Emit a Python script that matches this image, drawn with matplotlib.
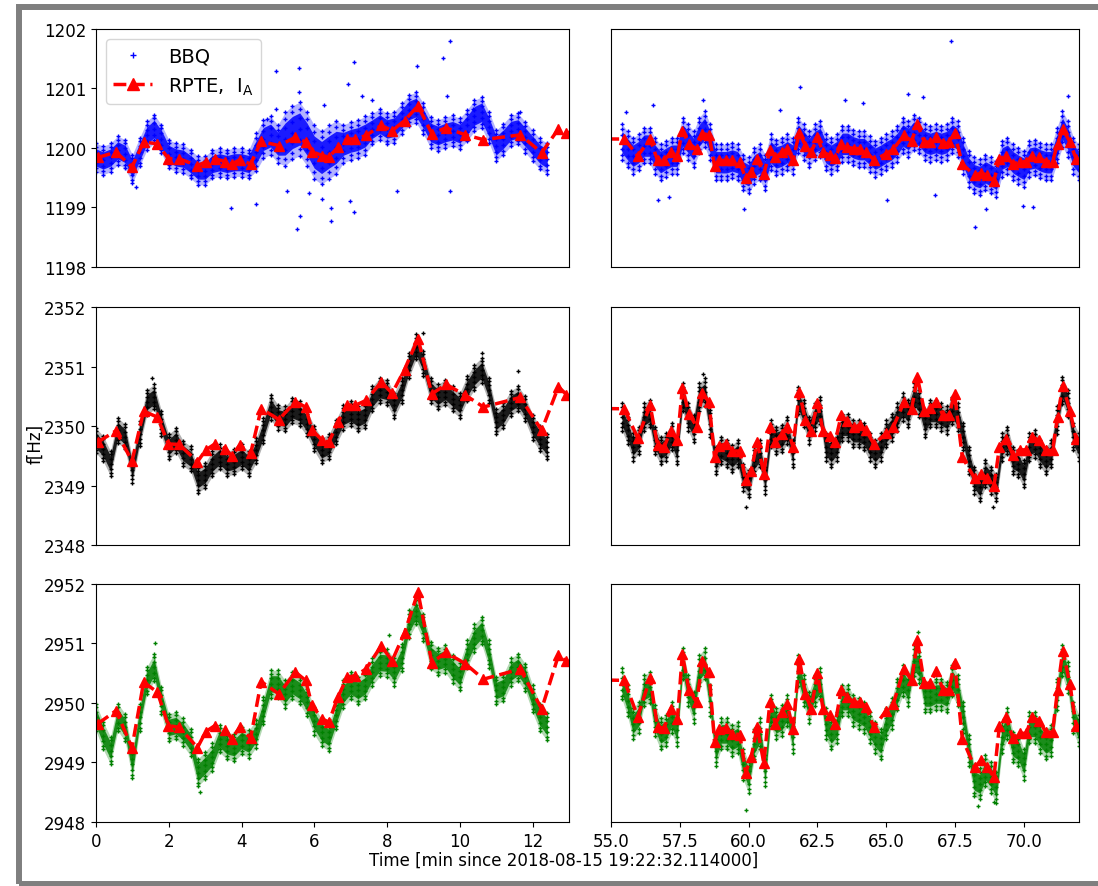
import numpy as np
import matplotlib
matplotlib.use('Agg')
import matplotlib.pyplot as plt
from matplotlib.patches import Rectangle

plt.rcParams['font.size'] = 12

# RPTE measurement times (one array for both windows) and tunes for the 3 planes
rpte_t = [0.05, 0.55, 0.99, 1.31, 1.69, 1.99, 2.29, 2.79, 3.02, 3.27,
          3.55, 3.73, 3.95, 4.25, 4.54, 5.03, 5.48, 5.76, 5.94, 6.22,
          6.40, 6.65, 6.90, 7.13, 7.42, 7.84, 8.14, 8.48, 8.85, 9.23,
          9.62, 10.15, 10.65, 11.66, 12.25, 12.71, 12.93,
          55.48, 55.97, 56.42, 56.69, 56.93, 57.17, 57.41, 57.59, 57.83, 58.11,
          58.32, 58.56, 58.76, 58.92, 59.16, 59.40, 59.68, 59.89, 60.09, 60.31,
          60.55, 60.77, 60.97, 61.21, 61.39, 61.61, 61.84, 62.06, 62.27, 62.50,
          62.70, 62.94, 63.14, 63.36, 63.59, 63.84, 64.05, 64.26, 64.55, 64.99,
          65.25, 65.64, 65.92, 66.13, 66.38, 66.58, 66.82, 67.06, 67.28, 67.48,
          67.76, 68.21, 68.45, 68.67, 68.91, 69.11, 69.35, 69.60, 69.84, 70.08,
          70.30, 70.54, 70.80, 71.04, 71.22, 71.41, 71.67, 71.89]
rpte_top = [1199.84, 1199.93, 1199.68, 1200.10, 1200.07, 1199.82, 1199.82, 1199.70, 1199.77, 1199.82,
            1199.77, 1199.73, 1199.80, 1199.73, 1200.11, 1200.04, 1200.18, 1200.10, 1199.94, 1199.87,
            1199.85, 1200.01, 1200.15, 1200.15, 1200.21, 1200.38, 1200.29, 1200.46, 1200.71, 1200.24,
            1200.34, 1200.22, 1200.14, 1200.22, 1199.92, 1200.32, 1200.26,
            1200.15, 1199.87, 1200.15, 1199.79, 1199.79, 1199.93, 1199.87, 1200.29, 1200.07, 1199.98,
            1200.24, 1200.22, 1199.70, 1199.79, 1199.79, 1199.79, 1199.76, 1199.49, 1199.60, 1199.82,
            1199.56, 1199.96, 1199.84, 1199.93, 1199.98, 1199.79, 1200.26, 1200.04, 1199.93, 1200.18,
            1199.93, 1199.88, 1199.83, 1200.07, 1200.01, 1199.99, 1199.99, 1199.94, 1199.80, 1199.90,
            1199.98, 1200.21, 1200.12, 1200.40, 1200.10, 1200.10, 1200.18, 1200.08, 1200.10, 1200.25,
            1199.73, 1199.54, 1199.58, 1199.54, 1199.45, 1199.82, 1199.87, 1199.73, 1199.77, 1199.77,
            1199.87, 1199.84, 1199.77, 1199.77, 1200.07, 1200.32, 1200.10, 1199.82]
rpte_mid = [2349.73, 2349.92, 2349.41, 2350.25, 2350.15, 2349.70, 2349.69, 2349.40, 2349.60, 2349.70,
            2349.62, 2349.50, 2349.68, 2349.54, 2350.29, 2350.11, 2350.41, 2350.32, 2349.93, 2349.76,
            2349.73, 2350.07, 2350.35, 2350.35, 2350.43, 2350.74, 2350.55, 2350.95, 2351.47, 2350.54,
            2350.70, 2350.52, 2350.32, 2350.48, 2349.93, 2350.66, 2350.53,
            2350.29, 2349.80, 2350.35, 2349.68, 2349.65, 2349.92, 2349.76, 2350.64, 2350.21, 2349.99,
            2350.55, 2350.40, 2349.48, 2349.66, 2349.70, 2349.58, 2349.58, 2349.09, 2349.25, 2349.73,
            2349.20, 2349.98, 2349.73, 2349.87, 2349.99, 2349.65, 2350.57, 2350.10, 2349.92, 2350.38,
            2349.92, 2349.84, 2349.73, 2350.18, 2350.08, 2349.99, 2350.01, 2349.94, 2349.69, 2349.88,
            2349.98, 2350.40, 2350.29, 2350.82, 2350.26, 2350.31, 2350.40, 2350.18, 2350.18, 2350.54,
            2349.48, 2349.12, 2349.20, 2349.12, 2348.99, 2349.65, 2349.79, 2349.51, 2349.60, 2349.60,
            2349.82, 2349.76, 2349.59, 2349.59, 2350.15, 2350.68, 2350.26, 2349.79]
rpte_bot = [2949.65, 2949.87, 2949.25, 2950.35, 2950.18, 2949.62, 2949.59, 2949.25, 2949.52, 2949.62,
            2949.54, 2949.40, 2949.59, 2949.41, 2950.36, 2950.15, 2950.52, 2950.38, 2949.96, 2949.73,
            2949.68, 2950.10, 2950.43, 2950.46, 2950.57, 2950.96, 2950.71, 2951.18, 2951.86, 2950.68,
            2950.85, 2950.66, 2950.40, 2950.57, 2949.90, 2950.80, 2950.70,
            2950.38, 2949.77, 2950.42, 2949.59, 2949.58, 2949.90, 2949.73, 2950.82, 2950.22, 2950.01,
            2950.70, 2950.52, 2949.34, 2949.56, 2949.58, 2949.48, 2949.47, 2948.83, 2949.09, 2949.59,
            2948.99, 2950.01, 2949.65, 2949.84, 2949.99, 2949.56, 2950.74, 2950.15, 2949.90, 2950.50,
            2949.90, 2949.79, 2949.65, 2950.22, 2950.10, 2950.01, 2950.01, 2949.94, 2949.59, 2949.87,
            2949.98, 2950.57, 2950.38, 2951.05, 2950.33, 2950.33, 2950.53, 2950.22, 2950.22, 2950.68,
            2949.40, 2948.92, 2949.04, 2948.92, 2948.75, 2949.62, 2949.76, 2949.41, 2949.49, 2949.49,
            2949.77, 2949.70, 2949.51, 2949.51, 2950.22, 2950.88, 2950.32, 2949.62]

# BBQ: centre of the point cloud read every 0.2 min, plus its half width
bbq_t_left = np.round(np.arange(0.0, 12.41, 0.2), 1)
bbq_t_right = np.round(np.arange(55.4, 72.01, 0.2), 1)

bbq_top_left = [1199.84, 1199.79, 1199.84, 1199.96, 1199.90, 1199.65, 1199.93, 1200.21, 1200.32, 1200.15,
                1199.90, 1199.84, 1199.82, 1199.73, 1199.62, 1199.62, 1199.73, 1199.76, 1199.73, 1199.76,
                1199.76, 1199.73, 1199.93, 1200.15, 1200.21, 1200.07, 1200.15, 1200.26, 1200.32, 1200.15,
                1199.93, 1199.84, 1199.93, 1200.01, 1200.07, 1200.12, 1200.15, 1200.21, 1200.32, 1200.40,
                1200.32, 1200.35, 1200.49, 1200.63, 1200.68, 1200.49, 1200.26, 1200.21, 1200.26, 1200.29,
                1200.24, 1200.38, 1200.54, 1200.60, 1200.35, 1200.04, 1200.15, 1200.29, 1200.32, 1200.18,
                1200.04, 1199.90, 1199.82]
spread_top_left = [0.24] * 22 + [0.32] * 4 + [0.45] * 8 + [0.32] * 4 + [0.26] * 25
bbq_mid_left = [2349.76, 2349.62, 2349.37, 2349.93, 2349.82, 2349.26, 2349.87, 2350.40, 2350.49, 2350.04,
                2349.65, 2349.76, 2349.54, 2349.45, 2349.09, 2349.17, 2349.37, 2349.48, 2349.37, 2349.40,
                2349.48, 2349.37, 2349.59, 2349.93, 2350.32, 2350.15, 2350.12, 2350.26, 2350.21, 2350.04,
                2349.79, 2349.59, 2349.65, 2349.90, 2350.15, 2350.21, 2350.12, 2350.18, 2350.46, 2350.60,
                2350.57, 2350.35, 2350.60, 2351.02, 2351.33, 2351.05, 2350.60, 2350.49, 2350.57, 2350.46,
                2350.35, 2350.63, 2350.82, 2350.94, 2350.60, 2350.07, 2350.18, 2350.38, 2350.46, 2350.29,
                2349.98, 2349.79, 2349.65]
bbq_bot_left = [2949.76, 2949.45, 2949.20, 2949.76, 2949.59, 2948.97, 2949.76, 2950.38, 2950.60, 2950.04,
                2949.59, 2949.62, 2949.51, 2949.34, 2948.83, 2948.95, 2949.09, 2949.40, 2949.28, 2949.25,
                2949.37, 2949.31, 2949.48, 2949.87, 2950.32, 2950.32, 2950.15, 2950.29, 2950.21, 2950.01,
                2949.70, 2949.51, 2949.42, 2949.79, 2950.15, 2950.29, 2950.21, 2950.29, 2950.52, 2950.68,
                2950.67, 2950.52, 2950.76, 2951.33, 2951.55, 2951.27, 2950.80, 2950.70, 2950.74, 2950.57,
                2950.44, 2950.82, 2951.09, 2951.22, 2950.82, 2950.21, 2950.26, 2950.52, 2950.60, 2950.43,
                2950.07, 2949.76, 2949.60]
bbq_top_right = [1200.10, 1199.98, 1199.87, 1199.93, 1200.04, 1200.04, 1199.87, 1199.76, 1199.82, 1199.87,
                 1199.87, 1200.21, 1200.10, 1199.98, 1200.21, 1200.32, 1200.10, 1199.76, 1199.76, 1199.76,
                 1199.79, 1199.76, 1199.59, 1199.54, 1199.70, 1199.76, 1199.59, 1199.93, 1199.84, 1199.87,
                 1199.93, 1199.87, 1200.21, 1200.10, 1199.98, 1200.10, 1200.15, 1199.93, 1199.87, 1199.93,
                 1200.07, 1200.07, 1200.01, 1199.98, 1199.98, 1199.90, 1199.82, 1199.87, 1199.93, 1199.98,
                 1200.07, 1200.21, 1200.15, 1200.26, 1200.21, 1200.10, 1200.07, 1200.10, 1200.07, 1200.10,
                 1200.21, 1200.15, 1199.87, 1199.65, 1199.54, 1199.51, 1199.59, 1199.54, 1199.48, 1199.82,
                 1199.87, 1199.76, 1199.70, 1199.65, 1199.82, 1199.84, 1199.79, 1199.76, 1199.76, 1200.04,
                 1200.32, 1200.15, 1199.87, 1199.76]
bbq_mid_right = [2350.15, 2349.93, 2349.65, 2349.76, 2350.15, 2350.21, 2349.76, 2349.59, 2349.65, 2349.82,
                 2349.59, 2350.49, 2350.15, 2349.96, 2350.49, 2350.57, 2350.04, 2349.42, 2349.59, 2349.54,
                 2349.45, 2349.54, 2349.14, 2349.03, 2349.42, 2349.54, 2349.09, 2349.87, 2349.76, 2349.79,
                 2349.93, 2349.54, 2350.43, 2350.21, 2349.93, 2350.15, 2350.26, 2349.65, 2349.54, 2349.65,
                 2349.98, 2349.98, 2349.87, 2349.87, 2349.82, 2349.65, 2349.54, 2349.65, 2349.87, 2349.98,
                 2350.15, 2350.32, 2350.21, 2350.49, 2350.38, 2350.04, 2350.21, 2350.21, 2350.15, 2350.10,
                 2350.26, 2350.15, 2349.82, 2349.42, 2349.09, 2348.97, 2349.20, 2349.09, 2348.97, 2349.65,
                 2349.76, 2349.42, 2349.37, 2349.20, 2349.65, 2349.70, 2349.54, 2349.42, 2349.54, 2350.10,
                 2350.60, 2350.38, 2349.82, 2349.65]
bbq_bot_right = [2950.32, 2950.04, 2949.65, 2949.76, 2950.21, 2950.26, 2949.70, 2949.48, 2949.54, 2949.76,
                 2949.54, 2950.66, 2950.21, 2949.93, 2950.54, 2950.66, 2950.04, 2949.20, 2949.48, 2949.48,
                 2949.37, 2949.42, 2948.97, 2948.75, 2949.31, 2949.48, 2948.86, 2949.87, 2949.65, 2949.70,
                 2949.87, 2949.42, 2950.54, 2950.21, 2949.93, 2950.21, 2950.32, 2949.65, 2949.48, 2949.59,
                 2950.04, 2950.04, 2949.87, 2949.82, 2949.76, 2949.59, 2949.42, 2949.31, 2949.65, 2949.82,
                 2950.15, 2950.38, 2950.21, 2950.71, 2950.60, 2950.10, 2950.10, 2950.15, 2950.15, 2950.10,
                 2950.38, 2950.21, 2949.76, 2949.20, 2948.69, 2948.64, 2948.86, 2948.75, 2948.58, 2949.42,
                 2949.65, 2949.26, 2949.20, 2948.97, 2949.59, 2949.59, 2949.42, 2949.31, 2949.37, 2950.15,
                 2950.71, 2950.43, 2949.76, 2949.54]

# half width of the cloud for the remaining panels [Hz]
spread_mid_left = 0.21
spread_bot_left = 0.23
spread_top_right = 0.3
spread_mid_right = 0.23
spread_bot_right = 0.26

# isolated BBQ points away from the cloud
out_top_left_t = [4.94, 5.59, 4.94, 5.58, 6.26, 6.93, 7.08, 9.55, 9.72, 8.82, 5.53, 5.60, 6.47, 6.47, 7.08,
                  6.99, 3.70, 4.41, 8.27, 9.72, 5.24, 5.85, 6.22, 7.31, 7.59, 11.65, 10.37, 9.64, 4.71, 1.10]
out_top_left_f = [1201.30, 1201.34, 1200.66, 1200.94, 1200.72, 1201.08, 1201.44, 1201.51, 1201.80, 1201.38,
                  1198.64, 1198.85, 1198.78, 1198.99, 1198.93, 1199.11, 1198.99, 1199.06, 1199.27, 1199.27,
                  1199.27, 1199.25, 1199.14, 1200.88, 1200.80, 1200.61, 1200.66, 1200.88, 1200.49, 1199.34]
out_top_right_t = [67.36, 61.88, 65.80, 66.34, 71.59, 68.23, 59.83, 68.61, 70.34, 56.69, 57.11, 56.51, 58.35,
                   63.50, 66.76, 65.01, 69.96, 55.54, 61.15, 64.17]
out_top_right_f = [1201.80, 1201.02, 1200.91, 1200.85, 1200.88, 1198.68, 1198.97, 1198.97, 1199.00, 1199.13,
                   1199.18, 1200.72, 1200.80, 1200.80, 1199.21, 1199.13, 1199.03, 1200.60, 1200.64, 1200.76]
out_mid_t = [1.55, 10.60, 11.61, 9.00, 58.35, 59.92, 68.87]
out_mid_f = [2350.80, 2351.22, 2350.92, 2351.56, 2350.88, 2348.64, 2348.64]
out_bot_t = [1.63, 2.86, 8.04, 66.16, 59.92, 68.33, 68.91]
out_bot_f = [2951.00, 2948.50, 2951.15, 2951.20, 2948.20, 2948.27, 2948.33]

row_colors = ['b', 'k', 'g']
row_ylims = [(1198, 1202), (2348, 2352), (2948, 2952)]
rpte_rows = [rpte_top, rpte_mid, rpte_bot]
bbq_rows = [[(bbq_top_left, spread_top_left), (bbq_top_right, spread_top_right)],
            [(bbq_mid_left, spread_mid_left), (bbq_mid_right, spread_mid_right)],
            [(bbq_bot_left, spread_bot_left), (bbq_bot_right, spread_bot_right)]]
out_rows = [[(out_top_left_t, out_top_left_f), (out_top_right_t, out_top_right_f)],
            [(out_mid_t, out_mid_f), (out_mid_t, out_mid_f)],
            [(out_bot_t, out_bot_f), (out_bot_t, out_bot_f)]]


def draw_bbq(ax, t, mid, spread, color, label=None):
    mid = np.asarray(mid)
    s = np.broadcast_to(np.asarray(spread, dtype=float), mid.shape)
    ax.fill_between(t, mid - s, mid + s, color=color, alpha=0.3, lw=0)
    ax.fill_between(t, mid - 0.6 * s, mid + 0.6 * s, color=color, alpha=0.85, lw=0)
    for k in (-1.0, -0.75, -0.4, 0.0, 0.4, 0.75, 1.0):
        ax.plot(t, mid + k * s, '+', color=color, ms=3.5, mew=1.0, ls='none',
                label=label if k == 0.0 else None)


fig = plt.figure(figsize=(10.98, 8.87), dpi=100)
col_left = [0.0874, 0.5565]
col_width = [0.4308, 0.4262]
row_bottom = [0.6979, 0.3844, 0.0722]
row_height = 0.2683
col_xlim = [(0, 13), (55, 72)]
col_t = [bbq_t_left, bbq_t_right]

for r in range(3):
    for c in range(2):
        ax = fig.add_axes([col_left[c], row_bottom[r], col_width[c], row_height])
        mid, spread = bbq_rows[r][c]
        lab = 'BBQ' if (r == 0 and c == 0) else None
        draw_bbq(ax, col_t[c], mid, spread, row_colors[r], label=lab)
        ot, of = out_rows[r][c]
        ax.plot(ot, of, '+', color=row_colors[r], ms=3.5, mew=1.0, ls='none')
        ax.plot(rpte_t, rpte_rows[r], 'r--^', lw=2.5, ms=7,
                label=r'RPTE,  $\mathregular{I_A}$' if (r == 0 and c == 0) else None)
        ax.set_xlim(*col_xlim[c])
        ax.set_ylim(*row_ylims[r])
        ax.set_yticks(np.arange(row_ylims[r][0], row_ylims[r][1] + 1, 1))
        if c == 1:
            ax.set_xticks([55.0, 57.5, 60.0, 62.5, 65.0, 67.5, 70.0])
            ax.tick_params(left=False, labelleft=False)
        if r < 2:
            ax.tick_params(bottom=False, labelbottom=False)
        if r == 0 and c == 0:
            ax.legend(loc='upper left', fontsize=14, markerscale=1.3)

fig.text(0.513, 0.030, 'Time [min since 2018-08-15 19:22:32.114000]', ha='center', va='center')
fig.text(0.032, 0.5, 'f[Hz]', rotation=90, ha='center', va='center')

# grey frame round the whole output
fig.patches.append(Rectangle((0.0169, 0.0028), 1.0, 0.9887, transform=fig.transFigure,
                             fill=False, edgecolor='#7f7f7f', lw=4.3))

fig.savefig('out.png', dpi=100)
